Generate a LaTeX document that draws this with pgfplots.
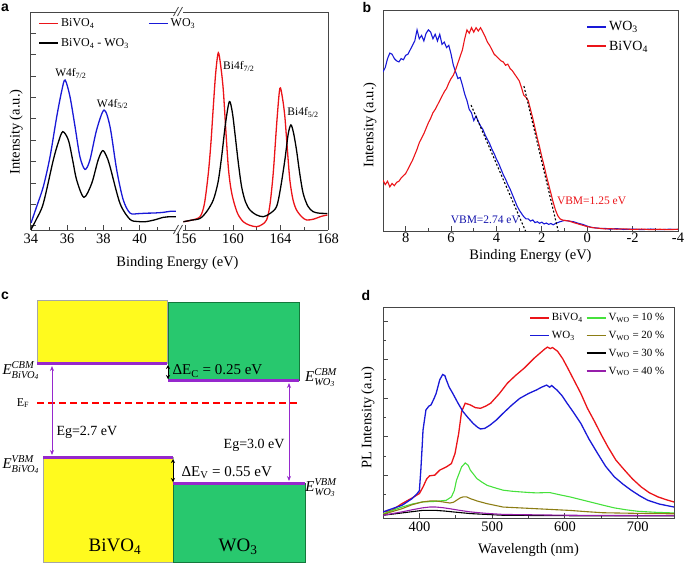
\documentclass[border=0pt]{standalone}
\usepackage{fontspec}
\setmainfont{Liberation Serif}
\newfontfamily\sansfam{Liberation Sans}
\usepackage{amsmath}
\usepackage{pgfplots}
\pgfplotsset{compat=1.18}
\usetikzlibrary{arrows.meta}
\newcommand\fs[1]{\fontsize{#1}{#1}\selectfont}
\definecolor{myred}{RGB}{235,20,25}
\definecolor{myblue}{RGB}{25,25,215}
\definecolor{boxgreen}{RGB}{40,200,110}
\definecolor{boxgreenedge}{RGB}{20,120,60}
\definecolor{boxyellow}{RGB}{255,250,30}
\definecolor{lvlpurple}{RGB}{150,40,205}
\definecolor{lgreen}{RGB}{70,225,60}
\definecolor{olivec}{RGB}{140,125,20}
\definecolor{purpc}{RGB}{150,30,170}
\definecolor{framec}{RGB}{70,70,70}
\pgfplotsset{
  every non boxed y axis/.append style={y axis line style={-}, ytick align=inside},
  every non boxed x axis/.append style={x axis line style={-}, xtick align=inside},
  base/.style={scale only axis, anchor=north west, tick align=inside,
    axis line style={draw=framec, line width=1pt},
    every tick/.style={draw=framec, line width=0.8pt},
    major tick length=5pt, minor tick length=3pt,
    /pgf/number format/assume math mode=true,
    ticklabel style={font=\fs{14.5}},
    label style={font=\fs{14.5}},
    xtick pos=bottom,
    legend cell align=left,
    legend style={draw=none, fill=none},
    legend image code/.code={\draw[##1, line width=1.9pt] (0pt,0pt) -- (19pt,0pt);},
  },
}
\begin{document}
\begin{tikzpicture}
\useasboundingbox (0,0) rectangle (685pt,-566pt);

% ---------------- panel a, left part ----------------
\begin{axis}[base, at={(31pt,-12pt)}, width=145pt, height=218pt,
  xmin=34, xmax=42, ymin=0, ymax=100,
  axis x line=box, axis y line*=left,
  xtick={34,36,38,40}, minor xtick={35,37,39,41},
  ytick={2,11.8,21.6,31.4,41.2,51,60.8,70.6,80.4,90.2}, yticklabels={},
  ylabel={Intensity (a.u.)},
  ylabel style={at={(axis description cs:-0.103,0.45)}, anchor=center},
  legend columns=2,
  legend style={at={(axis description cs:0.028,0.988)}, anchor=north west,
    font=\fs{12}, row sep=6pt, /tikz/every even column/.append style={column sep=17pt}},
]
\addlegendimage{myred}
\addlegendentry{BiVO\textsubscript{4}}
\addplot[myblue, line width=1.3pt, smooth] coordinates {
(34.0,3.2) (34.31,10.7) (34.68,19.9) (35.05,33.6) (35.42,52) (35.7,64) (35.88,68.8)
(36.15,61.2) (36.43,47.4) (36.7,33.6) (36.98,27.8) (37.25,32.1) (37.62,45.9) (38.03,55)
(38.36,47.4) (38.73,27.5) (39.09,13.8) (39.46,7.8) (39.9,7.5) (40.3,7.7) (40.8,7.8) (41.3,8.1) (41.7,8.6) (42.0,8.6)};
\addlegendentry{WO\textsubscript{3}}
\addplot[black, line width=1.3pt, smooth] coordinates {
(34.0,0.2) (34.3,5) (34.68,12.2) (35.23,32.1) (35.5,40) (35.75,45.1) (36.06,41.3) (36.3,32)
(36.52,22.9) (36.92,15) (37.35,21.4) (37.7,32) (37.95,36.4) (38.16,34) (38.36,29.1)
(38.91,12.2) (39.46,4.9) (39.9,3.9) (40.3,3.8) (40.8,4.6) (41.3,5.8) (41.7,6.1) (42.0,6.1)};
\addlegendentry{BiVO\textsubscript{4} - WO\textsubscript{3}}
\node[font=\fs{11.5}] at (axis cs:36.2,71.8) {W4f\textsubscript{7/2}};
\node[font=\fs{11.5}] at (axis cs:38.5,57.8) {W4f\textsubscript{5/2}};
\end{axis}

% ---------------- panel a, right part ----------------
\begin{axis}[base, at={(183pt,-12pt)}, width=145pt, height=218pt,
  xmin=155.8, xmax=168, ymin=0, ymax=100,
  axis x line=box, axis y line*=right, ytick=\empty,
  xtick={156,160,164,168}, minor xtick={158,162,166},
]
\addplot[myred, line width=1.3pt, smooth] coordinates {
(155.83,3.8) (156.5,4.5) (157.23,6.1) (157.6,12) (157.93,26) (158.15,40) (158.35,56.6) (158.55,72)
(158.77,81.3) (158.98,75) (159.19,64.2) (159.4,46) (159.61,29) (159.8,20) (160.03,13.8)
(160.4,7.5) (160.87,3.8) (161.4,2.2) (161.99,1.5) (162.45,2.5) (162.83,4.6) (163.1,11) (163.39,26)
(163.7,50) (163.95,65) (164.17,60.5) (164.37,52) (164.58,37) (164.79,22.9) (165.05,14) (165.35,9.2)
(165.8,6) (166.2,4.6) (166.8,5) (167.4,6.2) (167.95,6.9)};
\addplot[black, line width=1.3pt, smooth] coordinates {
(155.83,3.8) (156.5,4.5) (157.23,5.3) (157.8,8.5) (158.35,13.8) (158.75,22) (159.05,33.6) (159.38,49)
(159.7,58.9) (159.95,54) (160.17,44.3) (160.45,31) (160.73,19.9) (161.05,13) (161.43,9.2)
(161.95,7) (162.55,6.1) (163.1,7.5) (163.67,10.7) (164.0,19) (164.37,32.1) (164.65,44) (164.88,48.2)
(165.1,44.5) (165.35,36.7) (165.62,26) (165.91,16.8) (166.3,11) (166.75,8.4) (167.3,7.7) (167.95,7.6)};
\node[font=\fs{11.5}] at (axis cs:160.5,74.9) {Bi4f\textsubscript{7/2}};
\node[font=\fs{11.5}] at (axis cs:165.9,54) {Bi4f\textsubscript{5/2}};
\end{axis}
% axis break marks
\draw[framec, line width=0.8pt] (173.5pt,-16pt) -- (178.5pt,-7pt) (177.5pt,-16pt) -- (182.5pt,-7pt);
\draw[framec, line width=0.8pt] (173.5pt,-234pt) -- (178.5pt,-225pt) (177.5pt,-234pt) -- (182.5pt,-225pt);
\node[font=\fs{14.5}] at (177.5pt,-263pt) {Binding Energy (eV)};

% ---------------- panel b ----------------
\begin{axis}[base, at={(383pt,-10pt)}, width=295pt, height=221pt,
  xmin=-4, xmax=9, x dir=reverse, ymin=0, ymax=100,
  ytick=\empty, xtick={-4,-2,...,8}, minor xtick={-3,-1,...,7},
  xticklabel style={yshift=1.5pt},
  xlabel={Binding Energy (eV)},
  xlabel style={at={(axis description cs:0.5,-0.112)}, anchor=center},
  ylabel={Intensity (a.u.)},
  ylabel style={at={(axis description cs:-0.044,0.48)}, anchor=center},
  legend style={at={(axis description cs:0.678,0.968)}, anchor=north west,
    font=\fs{14}, row sep=5pt},
]
\addplot[myblue, line width=1.1pt] coordinates {
(9.0,72) (8.9,74) (8.8,78) (8.7,80.5) (8.6,80) (8.5,78) (8.4,77) (8.3,76.5) (8.2,78) (8.1,77.5)
(8.0,79.5) (7.9,80) (7.8,82) (7.7,84) (7.6,86) (7.5,91) (7.4,87) (7.3,88.5) (7.2,86) (7.1,89.5)
(7.0,91) (6.9,90) (6.8,87) (6.7,89) (6.6,86) (6.5,89) (6.4,84.5) (6.3,85.5) (6.2,83) (6.1,84)
(6.0,80) (5.9,75) (5.8,72) (5.7,69) (5.6,69.5) (5.5,66) (5.4,62) (5.3,59) (5.2,55) (5.1,53.5)
(5.0,50) (4.9,52) (4.8,49.5) (4.7,47.5) (4.6,46) (4.5,43.5) (4.4,41.5) (4.3,39.5) (4.2,37)
(4.1,35) (4.0,32.5) (3.9,30.5) (3.8,28) (3.7,25.5) (3.6,23.5) (3.5,21) (3.4,19) (3.3,16.5)
(3.2,14) (3.1,11.5) (3.0,9.5) (2.9,8) (2.8,6.5) (2.7,5.5) (2.6,5.5) (2.5,4.5) (2.4,5) (2.3,3.8)
(2.2,4.2) (2.1,3.5) (2.0,4) (1.9,3.2) (1.8,3.6) (1.7,3) (1.6,3.4) (1.5,2.8) (1.4,3.4) (1.3,3.8)
(1.2,4.2) (1.0,4.8) (0.8,4.5) (0.6,4.2) (0.4,3.5) (0.2,3) (0.0,2.2) (-0.2,1.6) (-0.4,1.4)
(-0.6,1.1) (-0.8,1.2) (-1.0,0.8) (-1.3,1.1) (-1.6,0.7) (-2.0,0.9) (-2.4,0.6) (-2.8,0.9)
(-3.2,0.6) (-3.6,0.8) (-4.0,0.7)};
\addlegendentry{WO\textsubscript{3}}
\addplot[myred, line width=1.1pt] coordinates {
(9.0,23) (8.9,21) (8.8,22.5) (8.7,20) (8.6,21.5) (8.5,20.5) (8.4,22) (8.3,22.5) (8.2,24) (8.1,25)
(8.0,26) (7.9,28) (7.8,30) (7.7,32) (7.6,34.5) (7.5,37) (7.4,40) (7.3,42) (7.2,44) (7.1,46.5)
(7.0,49) (6.9,51) (6.8,53.5) (6.7,55) (6.6,57) (6.5,59) (6.4,61) (6.3,63) (6.2,64.5) (6.1,67)
(6.0,69) (5.9,70.5) (5.8,73) (5.7,76) (5.6,79) (5.5,82) (5.4,87) (5.3,91) (5.2,89.5) (5.1,92)
(5.0,90) (4.9,92) (4.8,90.5) (4.7,92) (4.6,90) (4.5,88) (4.4,85.5) (4.3,84) (4.2,82) (4.1,80)
(4.0,79) (3.9,78) (3.8,77) (3.7,76.5) (3.6,75) (3.5,75.5) (3.4,73.5) (3.3,72.5) (3.2,71)
(3.1,69.5) (3.0,68) (2.9,65) (2.8,61.5) (2.7,60.5) (2.6,59) (2.5,55) (2.4,51) (2.3,46.5)
(2.2,42) (2.1,38) (2.0,33.5) (1.9,29.5) (1.8,25) (1.7,21) (1.6,17) (1.5,13) (1.4,9.5) (1.3,7)
(1.2,5.5) (1.1,5) (1.0,4.8) (0.8,4.5) (0.6,3.8) (0.4,3.2) (0.2,2.6) (0.0,2) (-0.2,1.6)
(-0.4,1.3) (-0.6,1.2) (-0.8,0.9) (-1.0,1.1) (-1.3,0.8) (-1.6,1) (-2.0,0.7) (-2.4,0.9)
(-2.8,0.6) (-3.2,0.8) (-3.6,0.6) (-4.0,0.8)};
\addlegendentry{BiVO\textsubscript{4}}
\addplot[black, line width=1.1pt, dash pattern=on 2pt off 2pt, forget plot] coordinates {(5.12,57) (2.72,0)};
\addplot[black, line width=1.1pt, dash pattern=on 2pt off 2pt, forget plot] coordinates {(2.79,65.6) (1.28,0)};
\node[font=\fs{11.5}, text=myblue!80!black] at (axis cs:4.49,5.0) {VBM=2.74 eV};
\node[font=\fs{11.5}, text=myred] at (axis cs:-0.19,13.7) {VBM=1.25 eV};
\end{axis}

% ---------------- panel c ----------------
\begin{axis}[at={(0pt,-280pt)}, anchor=north west, scale only axis, width=345pt, height=286pt,
  xmin=0, xmax=345, ymin=-566, ymax=-280, hide axis, clip=false]
\addplot[fill=boxyellow, draw=black!35, line width=0.6pt] coordinates {(37,-300) (167,-300) (167,-363) (37,-363)} -- cycle;
\addplot[fill=boxgreen, draw=boxgreenedge, line width=0.8pt] coordinates {(168,-302) (299,-302) (299,-380) (168,-380)} -- cycle;
\addplot[fill=boxyellow, draw=black!35, line width=0.6pt] coordinates {(43,-457) (173,-457) (173,-562) (43,-562)} -- cycle;
\addplot[fill=boxgreen, draw=boxgreenedge, line width=0.8pt] coordinates {(173,-483) (305,-483) (305,-562) (173,-562)} -- cycle;
\addplot[lvlpurple, line width=3pt] coordinates {(37,-363) (167,-363)};
\addplot[lvlpurple, line width=3pt] coordinates {(168,-380) (299,-380)};
\addplot[lvlpurple, line width=3pt] coordinates {(43,-457) (173,-457)};
\addplot[lvlpurple, line width=3pt] coordinates {(173,-483) (305,-483)};
\addplot[red, line width=1.6pt, dash pattern=on 7pt off 4pt] coordinates {(37,-403) (298,-403)};
\addplot[lvlpurple, line width=0.8pt, {Stealth[length=5pt,width=4pt]}-{Stealth[length=5pt,width=4pt]}] coordinates {(52,-366) (52,-455)};
\addplot[lvlpurple, line width=0.8pt, {Stealth[length=5pt,width=4pt]}-{Stealth[length=5pt,width=4pt]}] coordinates {(289,-383) (289,-481)};
\addplot[black, line width=0.9pt, {Stealth[length=4pt,width=4pt]}-{Stealth[length=4pt,width=4pt]}] coordinates {(168,-365) (168,-379)};
\addplot[black, line width=0.9pt, {Stealth[length=4pt,width=4pt]}-{Stealth[length=4pt,width=4pt]}] coordinates {(173,-459) (173,-482)};
\node[font=\fs{15}] at (axis cs:21,-371) {$\textit{E}^{\textit{CBM}}_{\textit{BiVO}_{\textit{4}}}$};
\node[font=\fs{15}] at (axis cs:21,-465) {$\textit{E}^{\textit{VBM}}_{\textit{BiVO}_{\textit{4}}}$};
\node[font=\fs{15}] at (axis cs:321,-378) {$\textit{E}^{\textit{CBM}}_{\textit{WO}_{\textit{3}}}$};
\node[font=\fs{15}] at (axis cs:321,-488) {$\textit{E}^{\textit{VBM}}_{\textit{WO}_{\textit{3}}}$};
\node[font=\fs{12}] at (axis cs:23,-403) {E\textsubscript{F}};
\node[font=\fs{14}, anchor=west] at (axis cs:53,-432) {Eg=2.7 eV};
\node[font=\fs{14}, anchor=east] at (axis cs:288,-445) {Eg=3.0 eV};
\node[font=\fs{15}, anchor=west] at (axis cs:169,-371) {ΔE\textsubscript{C} = 0.25 eV};
\node[font=\fs{15}, anchor=west] at (axis cs:178,-473) {ΔE\textsubscript{V} = 0.55 eV};
\node[font=\fs{19}] at (axis cs:115,-547) {BiVO\textsubscript{4}};
\node[font=\fs{19}] at (axis cs:238,-547) {WO\textsubscript{3}};
\end{axis}

% ---------------- panel d ----------------
\begin{axis}[base, at={(383pt,-307pt)}, width=291pt, height=211pt,
  xmin=350, xmax=750, ymin=0, ymax=100,
  xtick={400,500,600,700}, minor xtick={450,550,650},
  ytick={2.07,20.3,38.5,56.7,75,93.2}, minor ytick={11.2,29.4,47.6,65.9,84.1}, yticklabels={},
  ytick pos=left,
  xlabel={Wavelength (nm)},
  xlabel style={at={(axis description cs:0.5,-0.152)}, anchor=center},
  ylabel={PL Intensity (a.u)},
  ylabel style={at={(axis description cs:-0.052,0.474)}, anchor=center},
  legend columns=2,
  legend style={at={(axis description cs:0.491,0.99)}, anchor=north west,
    font=\fs{11}, row sep=5pt, /tikz/every even column/.append style={column sep=1pt}},
]
\addplot[myred, line width=1.3pt, forget plot] coordinates {
(350,2.9) (362,3.6) (376,6.8) (390,9.5) (400,11.6) (405,14.7) (410,18.5) (414,20) (421,20.3)
(428,22.7) (437,24.2) (444,25.8) (449,30.6) (454,40) (458,50.4) (463,54.4) (470,53.6) (477,52.3)
(484,52) (491,53) (498,54.4) (510,59) (521,63.9) (532,67.5) (544,71) (558,75.8) (567,78.5)
(572,80) (576,81) (580,80.3) (583,80.8) (590,79) (597,75.5) (604,71) (613,65) (622,59) (631,52)
(641,45.6) (650,39.5) (659,33.8) (670,27.5) (682,22.7) (693,18.5) (705,14.7) (716,12) (728,10)
(740,8.6) (750,7.6)};
\addplot[myblue, line width=1.3pt, forget plot] coordinates {
(350,2.9) (376,6) (390,9.2) (397,11.6) (400,13) (402,22.7) (404,35) (405,41.7) (409,51.2)
(413,53) (416,53.6) (420,56.5) (423,59) (428,65.5) (432,68) (435,67.5) (437,65.5) (441,62)
(446,59) (453,54.5) (460,50.4) (467,47.5) (474,44.8) (480,43) (484,42.2) (490,42.5) (497,44)
(506,46.5) (515,49.6) (527,53.5) (538,56.7) (550,59) (561,60.7) (568,62) (575,63) (579,62)
(582,62.8) (586,61.5) (589,60.7) (596,58) (603,54.4) (612,50) (622,44.8) (633,37.5) (645,30.6)
(656,24.5) (668,19.5) (680,16) (691,13.2) (703,10.5) (714,8.4) (730,6.6) (750,5.2)};
\addplot[lgreen, line width=1.1pt, forget plot] coordinates {
(350,2) (376,5.2) (390,6.6) (404,7.6) (423,7.9) (437,8.4) (444,10) (448,13) (451,17.9) (455,21.5)
(458,24.2) (463,26.1) (467,25) (470,22.7) (475,20.5) (479,18.7) (486,17) (493,15.5) (504,14.3)
(515,13.2) (527,12.7) (538,12.4) (550,12.1) (561,11.9) (570,12) (580,12) (593,11) (607,10)
(621,8.8) (635,7.6) (651,6.2) (668,4.8) (684,3.9) (700,3.2) (725,2.7) (750,2.4)};
\addplot[olivec, line width=1.1pt, forget plot] coordinates {
(350,1.7) (376,4.4) (390,6.3) (404,7.6) (415,8.1) (423,8.1) (433,7.6) (442,7.1) (447,7.5)
(451,8.4) (456,9.5) (460,10) (465,10) (470,9.2) (480,8) (493,6.8) (504,6) (515,5.2) (538,4.8)
(561,4.4) (584,4) (607,3.6) (630,3) (652,2.5) (700,2.2) (750,2)};
\addplot[black, line width=1.1pt, forget plot] coordinates {
(350,1.3) (376,2.4) (390,3) (404,3.6) (423,3.6) (435,3.3) (446,2.9) (458,2.5) (470,2.1)
(492,1.7) (515,1.3) (600,1.1) (750,1)};
\addplot[purpc, line width=1.1pt, forget plot] coordinates {
(350,1.3) (376,2.9) (390,3.9) (404,4.8) (414,5.2) (423,5.2) (432,4.9) (442,4.4) (456,3.6)
(470,2.9) (492,2.2) (515,1.7) (560,1.5) (607,1.3) (750,1.1)};
\addlegendimage{myred}\addlegendentry{BiVO\textsubscript{4}}
\addlegendimage{lgreen}\addlegendentry{V\textsubscript{WO} = 10 \%}
\addlegendimage{myblue}\addlegendentry{WO\textsubscript{3}}
\addlegendimage{olivec}\addlegendentry{V\textsubscript{WO} = 20 \%}
\addlegendimage{empty legend}\addlegendentry{}
\addlegendimage{black}\addlegendentry{V\textsubscript{WO} = 30 \%}
\addlegendimage{empty legend}\addlegendentry{}
\addlegendimage{purpc}\addlegendentry{V\textsubscript{WO} = 40 \%}
\end{axis}

% panel letters
\node[font=\sansfam\bfseries\fs{14}] at (5pt,-7.5pt) {a};
\node[font=\sansfam\bfseries\fs{14}] at (367pt,-7.5pt) {b};
\node[font=\sansfam\bfseries\fs{14}] at (5pt,-295.5pt) {c};
\node[font=\sansfam\bfseries\fs{14}] at (366pt,-295.5pt) {d};
\end{tikzpicture}
\end{document}
